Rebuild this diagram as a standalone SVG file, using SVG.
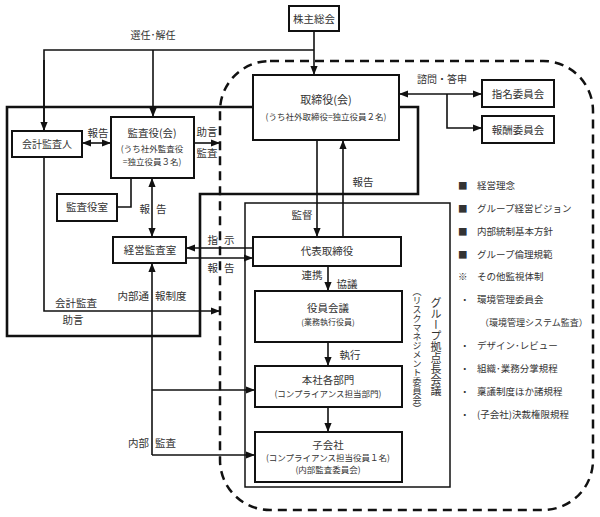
<svg xmlns="http://www.w3.org/2000/svg" width="600" height="517" viewBox="0 0 600 517">
<style>
text{font-family:"Noto Sans CJK JP","Noto Sans",sans-serif;fill:#333;}
.b{fill:#fff;stroke:#111;stroke-width:2;}
.m{font-size:10.5px;text-anchor:middle;}
.s{font-size:8.5px;text-anchor:middle;}
.l{font-size:9.5px;}
.c{fill:none;stroke:#111;stroke-width:1.6;}
.a{marker-end:url(#ah);}
.d{marker-start:url(#ah);marker-end:url(#ah);}
.thick{fill:none;stroke:#111;stroke-width:2.6;}
</style>
<defs>
<marker id="ah" viewBox="0 0 10 10" refX="10" refY="5" markerWidth="9" markerHeight="9" markerUnits="userSpaceOnUse" orient="auto-start-reverse">
<path d="M0,1 L10,5 L0,9 z" fill="#111"/>
</marker>
</defs>

<!-- dashed boundary -->
<rect x="220" y="61" width="373" height="449" rx="50" ry="50" fill="none" stroke="#111" stroke-width="2.5" stroke-dasharray="9 6"/>

<!-- thick audit frame -->
<polyline class="thick" points="253,107 7,107 7,336 200,336 200,194 418,194 418,107 399,107"/>

<!-- group frame -->
<rect x="245" y="203" width="205" height="284" fill="none" stroke="#111" stroke-width="1.5"/>

<g id="connectors">
<polyline class="c" points="44,131 44,50 314,50"/>
<line class="c a" x1="44" y1="60" x2="44" y2="131"/>
<line class="c a" x1="153" y1="50" x2="153" y2="117"/>
<line class="c a" x1="314" y1="31" x2="314" y2="75"/>
<line class="c d" x1="399" y1="94" x2="482" y2="94"/>
<polyline class="c a" points="447,94 447,128 482,128"/>
<line class="c d" x1="82" y1="143" x2="111" y2="143"/>
<line class="c a" x1="194" y1="143" x2="220" y2="143"/>
<polyline class="c" points="131,178 131,207 117,207"/>
<line class="c d" x1="152" y1="178" x2="152" y2="237"/>
<line class="c a" x1="253" y1="248" x2="186" y2="248"/>
<line class="c a" x1="186" y1="258" x2="253" y2="258"/>
<line class="c a" x1="317" y1="140" x2="317" y2="237"/>
<line class="c a" x1="343" y1="237" x2="343" y2="140"/>
<line class="c a" x1="328" y1="266" x2="328" y2="291"/>
<line class="c a" x1="328" y1="342" x2="328" y2="366"/>
<line class="c a" x1="328" y1="407" x2="328" y2="432"/>
<polyline class="c a" points="44,157 44,311 220,311"/>
<line class="c a" x1="152" y1="455" x2="152" y2="263"/>
<line class="c a" x1="152" y1="390" x2="255" y2="390"/>
<line class="c a" x1="152" y1="455" x2="255" y2="455"/>
</g>

<g id="n-kabunushi"><rect class="b" x="289" y="6" width="50" height="25"/><text class="m" x="314" y="23">株主総会</text></g>
<g id="n-torishimariyaku"><rect class="b" x="253" y="75" width="146" height="65"/><text class="m" x="326" y="104" style="font-size:11px">取締役(会)</text><text class="s" x="326" y="120">(うち社外取締役=独立役員２名)</text></g>
<g id="n-shimei"><rect class="b" x="482" y="80" width="72" height="27"/><text class="m" x="518" y="98">指名委員会</text></g>
<g id="n-hoshu"><rect class="b" x="482" y="116" width="72" height="27"/><text class="m" x="518" y="134">報酬委員会</text></g>
<g id="n-kaikei"><rect class="b" x="12" y="131" width="70" height="26"/><text class="m" x="47" y="148" style="font-size:10px">会計監査人</text></g>
<g id="n-kansayaku"><rect class="b" x="111" y="117" width="83" height="61"/><text class="m" x="152" y="137">監査役(会)</text><text class="s" x="152" y="152">(うち社外監査役</text><text class="s" x="152" y="165">=独立役員３名)</text></g>
<g id="n-kansayakushitsu"><rect class="b" x="57" y="194" width="60" height="27"/><text class="m" x="87" y="211">監査役室</text></g>
<g id="n-keiei"><rect class="b" x="113" y="237" width="73" height="26"/><text class="m" x="150" y="254">経営監査室</text></g>
<g id="n-daihyo"><rect class="b" x="253" y="237" width="148" height="29"/><text class="m" x="327" y="255">代表取締役</text></g>
<g id="n-yakuin"><rect class="b" x="255" y="291" width="147" height="51"/><text class="m" x="328" y="312">役員会議</text><text class="s" x="328" y="325" style="font-size:8px">(業務執行役員)</text></g>
<g id="n-honsha"><rect class="b" x="255" y="366" width="147" height="41"/><text class="m" x="328" y="384">本社各部門</text><text class="s" x="328" y="397">(コンプライアンス担当部門)</text></g>
<g id="n-kogaisha"><rect class="b" x="255" y="432" width="147" height="50"/><text class="m" x="328" y="449">子会社</text><text class="s" x="328" y="461">(コンプライアンス担当役員１名)</text><text class="s" x="328" y="473">(内部監査委員会)</text></g>

<g id="labels">
<text class="m" x="153" y="39" style="font-size:10px">選任･解任</text>
<text class="m" x="442" y="83" style="font-size:10px">諮問・答申</text>
<text class="m" x="98" y="137">報告</text>
<text class="m" x="207" y="136">助言</text>
<text class="m" x="207" y="157">監査</text>
<text class="m" x="153" y="213">報<tspan dx="6">告</tspan></text>
<text class="m" x="221" y="244">指<tspan dx="6">示</tspan></text>
<text class="m" x="221" y="272">報<tspan dx="6">告</tspan></text>
<text class="m" x="302" y="219">監督</text>
<text class="m" x="363" y="186">報告</text>
<text class="m" x="312" y="279">連携</text>
<text class="m" x="347" y="288">協議</text>
<text class="m" x="350" y="359">執行</text>
<text class="m" x="76" y="307">会計監査</text>
<text class="m" x="73" y="324">助言</text>
<text class="m" x="152" y="300">内部通<tspan dx="6">報制度</tspan></text>
<text class="m" x="152" y="447">内部<tspan dx="6">監査</tspan></text>
<text x="436" y="297" style="font-size:11px;writing-mode:vertical-rl">グループ拠点長会議</text>
<text x="417" y="287" style="font-size:9px;writing-mode:vertical-rl">（リスクマネジメント委員会）</text>
</g>

<g id="list">
<text class="l" x="458" y="189">■</text><text class="l" x="477" y="189">経営理念</text>
<text class="l" x="458" y="212">■</text><text class="l" x="477" y="212">グループ経営ビジョン</text>
<text class="l" x="458" y="235">■</text><text class="l" x="477" y="235">内部統制基本方針</text>
<text class="l" x="458" y="258">■</text><text class="l" x="477" y="258">グループ倫理規範</text>
<text class="l" x="458" y="280">※</text><text class="l" x="477" y="280">その他監視体制</text>
<text class="l" x="460" y="303">・</text><text class="l" x="477" y="303">環境管理委員会</text>
<text class="l" x="480" y="326" style="font-size:9px">（環境管理システム監査）</text>
<text class="l" x="460" y="349">・</text><text class="l" x="477" y="349">デザイン･レビュー</text>
<text class="l" x="460" y="372">・</text><text class="l" x="477" y="372">組織･業務分掌規程</text>
<text class="l" x="460" y="395">・</text><text class="l" x="477" y="395">稟議制度ほか諸規程</text>
<text class="l" x="460" y="418">・</text><text class="l" x="477" y="418">(子会社)決裁権限規程</text>
</g>
</svg>
